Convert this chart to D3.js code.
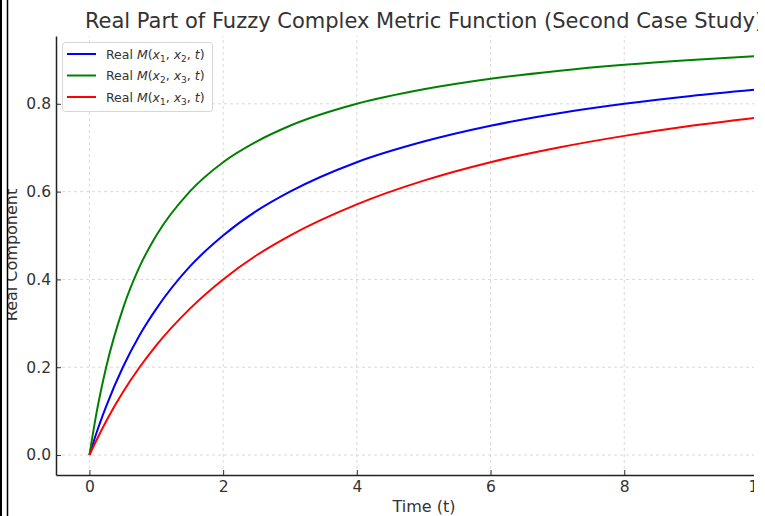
<!DOCTYPE html>
<html>
<head>
<meta charset="utf-8">
<script src="https://cdn.jsdelivr.net/npm/d3@7"></script>
<style>
  body { margin: 0; background: #fff; }
  svg { display: block; font-family: "DejaVu Sans", sans-serif; }
</style>
</head>
<body>
<div id="chart"></div>
<script>
// values
var times = [0, 0.1, 0.25, 0.5, 0.75, 1, 1.5, 2, 2.5, 3, 4, 5, 6, 7, 8, 9, 10];
var m12 = [0, 0.048, 0.111, 0.2, 0.273, 0.333, 0.429, 0.5, 0.556, 0.6, 0.667, 0.714, 0.75, 0.778, 0.8, 0.818, 0.833];
var m23 = [0, 0.091, 0.2, 0.333, 0.429, 0.5, 0.6, 0.667, 0.714, 0.75, 0.8, 0.833, 0.857, 0.875, 0.889, 0.9, 0.909];
var m13 = [0, 0.032, 0.077, 0.143, 0.2, 0.25, 0.333, 0.4, 0.455, 0.5, 0.571, 0.625, 0.667, 0.7, 0.727, 0.75, 0.769];
var xTicks = [0, 2, 4, 6, 8, 10];
var yTicks = [0, 0.2, 0.4, 0.6, 0.8];
var series = [
  { sub: ["1", "2"], color: "blue", vals: m12 },
  { sub: ["2", "3"], color: "green", vals: m23 },
  { sub: ["1", "3"], color: "red", vals: m13 }
];

var width = 765, height = 516;
var svg = d3.select("#chart").append("svg")
  .attr("width", width)
  .attr("height", height);

var x = d3.scaleLinear().domain([-0.5, 10.5]).range([56, 791.4]);
var y = d3.scaleLinear().domain([-0.0455, 0.9545]).range([475, 36]);

svg.append("clipPath").attr("id", "cut")
  .append("rect").attr("x", 0).attr("y", 0).attr("width", 754).attr("height", height);
svg.append("clipPath").attr("id", "cutTitle")
  .append("rect").attr("x", 0).attr("y", 0).attr("width", 758).attr("height", height);

var g = svg.append("g").attr("clip-path", "url(#cut)");

// grid
g.selectAll(".gx").data(xTicks).enter().append("line")
  .attr("x1", d => x(d)).attr("x2", d => x(d))
  .attr("y1", y.range()[0]).attr("y2", y.range()[1])
  .attr("stroke", "#d0d0d0").attr("stroke-width", 0.8).attr("stroke-dasharray", "3,3");
g.selectAll(".gy").data(yTicks).enter().append("line")
  .attr("x1", x.range()[0]).attr("x2", x.range()[1])
  .attr("y1", d => y(d)).attr("y2", d => y(d))
  .attr("stroke", "#d0d0d0").attr("stroke-width", 0.8).attr("stroke-dasharray", "3,3");

// curves
var line = d3.line()
  .x((d, i) => x(times[i]))
  .y(d => y(d))
  .curve(d3.curveMonotoneX);
g.selectAll(".curve").data(series).enter().append("path")
  .attr("d", d => line(d.vals))
  .attr("fill", "none")
  .attr("stroke", d => d.color)
  .attr("stroke-width", 2);

// axes
var xAxis = d3.axisBottom(x).tickValues(xTicks).tickSizeInner(-5).tickSizeOuter(0).tickPadding(6);
var yAxis = d3.axisLeft(y).tickValues(yTicks).tickSizeInner(-5).tickSizeOuter(0).tickPadding(5)
  .tickFormat(d3.format(".1f"));

var gx = g.append("g").attr("transform", "translate(0," + y.range()[0] + ")").call(xAxis);
var gy = g.append("g").attr("transform", "translate(" + x.range()[0] + ",0)").call(yAxis);
[gx, gy].forEach(function(a) {
  a.select(".domain").attr("stroke", "#222").attr("stroke-width", 1.5);
  a.selectAll(".tick line").attr("stroke", "#333").attr("stroke-width", 1);
  a.selectAll(".tick text").attr("fill", "#333").style("font-size", "15.5px")
    .style("font-family", "DejaVu Sans");
});

// legend
var leg = g.append("g");
leg.append("rect")
  .attr("x", 62.5).attr("y", 42.5).attr("width", 150).attr("height", 69)
  .attr("rx", 3).attr("fill", "#fff").attr("fill-opacity", 0.85)
  .attr("stroke", "#d6d6d6");
var items = leg.selectAll(".item").data(series).enter().append("g")
  .attr("transform", (d, i) => "translate(0," + (54 + i * 21.5) + ")");
items.append("line")
  .attr("x1", 67).attr("x2", 96)
  .attr("stroke", d => d.color).attr("stroke-width", 2);
var lt = items.append("text")
  .attr("x", 106).attr("y", 4.5)
  .attr("fill", "#333").style("font-size", "12.5px");
lt.each(function(d) {
  var t = d3.select(this);
  t.append("tspan").text("Real ");
  t.append("tspan").attr("font-style", "italic").text("M");
  t.append("tspan").text("(");
  t.append("tspan").attr("font-style", "italic").text("x");
  t.append("tspan").attr("dy", 3).style("font-size", "9px").text(d.sub[0]);
  t.append("tspan").attr("dy", -3).text(", ");
  t.append("tspan").attr("font-style", "italic").text("x");
  t.append("tspan").attr("dy", 3).style("font-size", "9px").text(d.sub[1]);
  t.append("tspan").attr("dy", -3).text(", ");
  t.append("tspan").attr("font-style", "italic").text("t");
  t.append("tspan").text(")");
});

// titles
svg.append("text")
  .attr("clip-path", "url(#cutTitle)")
  .attr("x", 424).attr("y", 28)
  .attr("text-anchor", "middle")
  .attr("fill", "#333").style("font-size", "21px")
  .text("Real Part of Fuzzy Complex Metric Function (Second Case Study)");

svg.append("text")
  .attr("x", 424).attr("y", 512)
  .attr("text-anchor", "middle")
  .attr("fill", "#333").style("font-size", "16px")
  .text("Time (t)");

svg.append("text")
  .attr("transform", "translate(17,255) rotate(-90)")
  .attr("text-anchor", "middle")
  .attr("fill", "#333").style("font-size", "16px")
  .text("Real Component");

// frame lines at the left edge
svg.append("rect").attr("x", 0).attr("y", 0).attr("width", 7).attr("height", height).attr("fill", "#fff");
svg.append("line").attr("x1", 1).attr("x2", 1).attr("y1", 0).attr("y2", height)
  .attr("stroke", "#000").attr("stroke-width", 2);
svg.append("line").attr("x1", 7.5).attr("x2", 7.5).attr("y1", 0).attr("y2", height)
  .attr("stroke", "#000").attr("stroke-width", 1.5);
</script>
</body>
</html>
